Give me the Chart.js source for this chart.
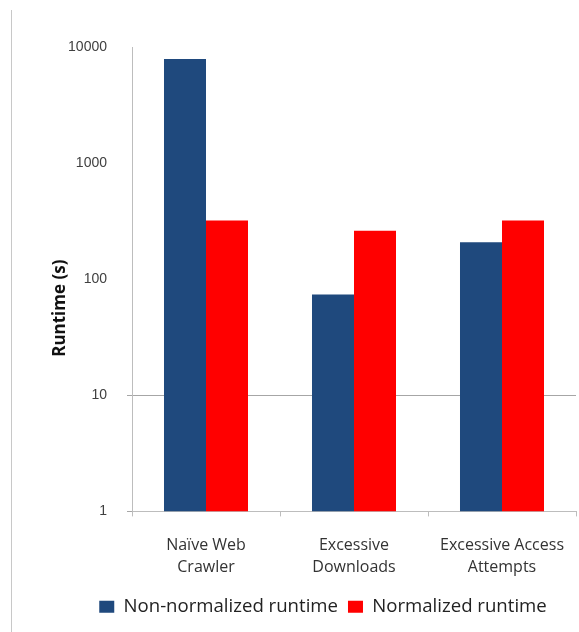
<!DOCTYPE html>
<html>
<head>
<meta charset="utf-8">
<script src="https://cdn.jsdelivr.net/npm/chart.js@4/dist/chart.umd.min.js"></script>
<style>
  html, body { margin: 0; padding: 0; background: #ffffff; }
  #wrap { position: relative; width: 579px; height: 632px; }
  #frame { position: absolute; left: 11px; top: 10px; width: 0; height: 622px; border-left: 1px solid #c8c8c8; }
  canvas { position: absolute; left: 0; top: 0; }
</style>
</head>
<body>
<div id="wrap">
  <div id="frame"></div>
  <canvas id="chart" width="579" height="632"></canvas>
</div>
<script>
// Runtime per scenario, seconds (log scale)
const categories = [["Naïve Web", "Crawler"], ["Excessive", "Downloads"], ["Excessive Access", "Attempts"]];
const nonNormalized = [7900, 74, 208];
const normalized = [320, 261, 320];
const yTicks = [1, 10, 100, 1000, 10000];
const seriesNames = ["Non-normalized runtime", "Normalized runtime"];
const yTitle = "Runtime (s)";

const axisGray = "#bdbdbd";

// Vertical y-axis title, placed a little below the middle of the plot
const yTitlePlugin = {
  id: "yTitle",
  afterLayout(chart) {
    // nudge the legend to the right so it sits under the plot
    const lg = chart.legend;
    if (lg) { lg.left += 35; lg.right += 35; }
  },
  afterDraw(chart) {
    const { ctx, chartArea } = chart;
    ctx.save();
    ctx.translate(60, (chartArea.top + chartArea.bottom) / 2 + 29);
    ctx.rotate(-Math.PI / 2);
    ctx.font = "bold 17px 'Open Sans'";
    ctx.fillStyle = "#111111";
    ctx.textAlign = "center";
    ctx.textBaseline = "middle";
    ctx.fillText(yTitle, 0, 0);
    ctx.restore();
  }
};

new Chart(document.getElementById("chart"), {
  type: "bar",
  data: {
    labels: categories,
    datasets: [
      { label: seriesNames[0], data: nonNormalized, backgroundColor: "#1f497d" },
      { label: seriesNames[1], data: normalized, backgroundColor: "#ff0000" }
    ]
  },
  plugins: [yTitlePlugin],
  options: {
    responsive: false,
    animation: false,
    devicePixelRatio: 1,
    layout: { padding: { top: 47, right: 3, left: 0, bottom: 6 } },
    datasets: { bar: { categoryPercentage: 0.5676, barPercentage: 1.0 } },
    plugins: {
      tooltip: { enabled: false },
      legend: {
        position: "bottom",
        labels: {
          boxWidth: 15,
          boxHeight: 12,
          padding: 10,
          color: "#222222",
          font: { family: "Open Sans", size: 18.6 }
        }
      }
    },
    scales: {
      x: {
        afterFit: (s) => { s.height = 76; s.paddingLeft = 0; s.paddingRight = 0; },
        border: { color: axisGray, width: 1 },
        grid: { drawOnChartArea: false, drawTicks: true, tickLength: 5, color: axisGray, offset: true },
        ticks: {
          padding: 18,
          color: "#333333",
          font: { family: "Open Sans", size: 16, lineHeight: 1.38 },
          maxRotation: 0,
          autoSkip: false
        }
      },
      y: {
        type: "logarithmic",
        min: 1,
        max: 10000,
        afterFit: (s) => { s.width = 132; s.paddingTop = 0; s.paddingBottom = 0; },
        afterBuildTicks: (s) => { s.ticks = yTicks.map(v => ({ value: v })); },
        border: { color: axisGray, width: 1 },
        grid: {
          tickLength: 5,
          color: (ctx) => (ctx.tick && (ctx.tick.value === 10 || ctx.tick.value === 1)) ? "#a6a6a6" : "rgba(0,0,0,0)",
          lineWidth: 1
        },
        ticks: {
          padding: 20,
          color: "#404040",
          font: { family: "Liberation Sans", size: 14 },
          callback: (v) => String(v)
        }
      }
    }
  }
});
</script>
</body>
</html>
